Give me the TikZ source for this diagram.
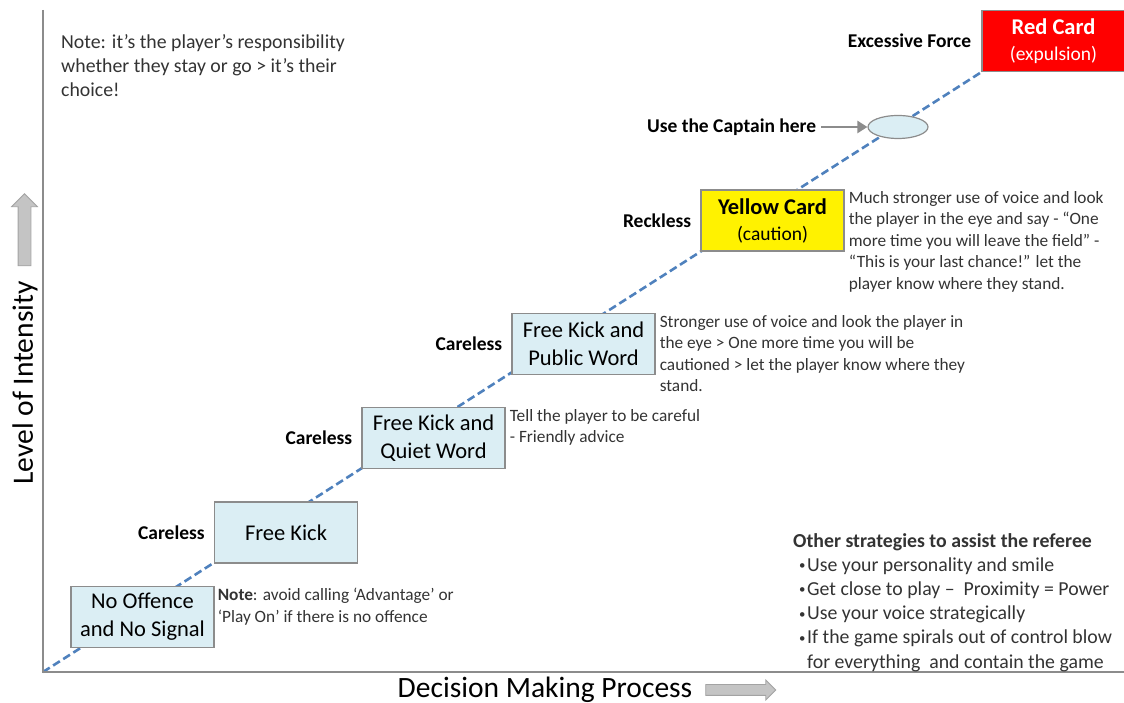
\documentclass[tikz,border=0pt]{standalone}
\usepackage{fontspec}
\setmainfont{Carlito}
\usetikzlibrary{shapes.geometric, shapes.arrows, arrows.meta, positioning, backgrounds}
\usepackage{xcolor}

\definecolor{boxblue}{HTML}{DBEEF4}
\definecolor{edgegrey}{HTML}{8C8C8C}
\definecolor{ladderblue}{HTML}{4F81BD}
\definecolor{textgrey}{HTML}{333333}
\definecolor{arrowgrey}{HTML}{C4C4C4}

\newcommand{\tipitem}{\hspace*{6pt}\makebox[8pt][l]{\raisebox{1.5pt}{\scalebox{0.65}{\textbullet}}}}

\begin{document}
\begin{tikzpicture}[
        x=1pt, y=1pt,
        >=latex,
        card/.style={rectangle, draw=edgegrey, line width=1.2pt, fill=boxblue, minimum width=143pt, minimum height=61pt, inner sep=2pt, align=center, font=\fontsize{22.5}{28}\selectfont},
        offence/.style={inner sep=0pt, font=\bfseries\fontsize{19.5}{23}\selectfont},
        desc/.style={inner sep=0pt, align=left, text=textgrey, font=\fontsize{17.3}{21.5}\selectfont},
        remark/.style={inner sep=0pt, align=left, text=textgrey, font=\fontsize{19.8}{24.2}\selectfont},
        axistitle/.style={inner sep=0pt, font=\fontsize{29.5}{34}\selectfont},
        bigarrow/.style={single arrow, draw=edgegrey!80, fill=arrowgrey, line width=0.8pt, inner xsep=0pt, single arrow head indent=0pt},
        ladder/.style={draw=ladderblue, line width=2.6pt, dash pattern=on 8pt off 4pt},
        axis/.style={draw=edgegrey, line width=2pt},
        line/.style={draw=edgegrey, line width=2.4pt, -{Triangle[length=10pt, width=12pt]}}
    ]
        \useasboundingbox (0,0) rectangle (1124,703);

        % Axes
        \coordinate (orig) at (43,31);
        \coordinate (y_top) at (43,693);
        \coordinate (x_end) at (1124,31);
        \draw [axis] (y_top) -- (orig) -- (x_end);
        \node [axistitle, rotate=90] (y_title) at (25,320) {Level of Intensity};
        \node [bigarrow, rotate=90, minimum height=72pt, inner ysep=6pt, single arrow head extend=6.5pt] (y_arrow) at (24.5,470) {};
        \node [axistitle] (x_title) at (545,13) {Decision Making Process};
        \node [bigarrow, minimum height=70pt, inner ysep=5pt, single arrow head extend=4.5pt] (x_arrow) at (738,13) {};

        % Cards
        \node [card] (card_none) at (142.5,86) {No Offence\\and No Signal};
        \node [card] (card_fk) at (286,170.5) {Free Kick};
        \node [card] (card_quiet) at (433.5,265) {Free Kick and\\Quiet Word};
        \node [card] (card_public) at (583.5,359) {Free Kick and\\Public Word};
        \node [card, fill=yellow] (card_yellow) at (772.5,482.5) {\textbf{Yellow Card}\\[-2pt]{\fontsize{19.5}{24}\selectfont(caution)}};
        \node [card, fill=red, text=white] (card_red) at (1053.5,662) {\textbf{Red Card}\\[-2pt]{\fontsize{19.5}{24}\selectfont(expulsion)}};
        \node [ellipse, draw=edgegrey, line width=1.2pt, fill=boxblue, minimum width=60pt, minimum height=23pt, inner sep=0pt] (captain) at (898,576) {};

        % Offence labels
        \node [offence, left=9pt of card_fk] (lab_fk) {Careless};
        \node [offence, left=9pt of card_quiet] (lab_quiet) {Careless};
        \node [offence, left=9pt of card_public] (lab_public) {Careless};
        \node [offence, left=9pt of card_yellow] (lab_yellow) {Reckless};
        \node [offence, left=10pt of card_red] (lab_red) {Excessive Force};
        \node [offence, left=51pt of captain] (lab_captain) {Use the Captain here};

        % Advice texts
        \node [desc, below right=2pt and 3pt of card_none.north east] (desc_none) {\textbf{Note}: avoid calling ‘Advantage’ or\\‘Play On’ if there is no offence};
        \node [desc, below right=2pt and 4pt of card_quiet.north east] (desc_quiet) {Tell the player to be careful\\- Friendly advice};
        \node [desc, below right=2pt and 4pt of card_public.north east] (desc_public) {Stronger use of voice and look the player in\\the eye > One more time you will be\\cautioned > let the player know where they\\stand.};
        \node [desc, below right=1.5pt and 4pt of card_yellow.north east] (desc_yellow) {Much stronger use of voice and look\\the player in the eye and say - “One\\more time you will leave the field” -\\“This is your last chance!” let the\\player know where they stand.};

        % Notes
        \node [remark, anchor=north west] (resp_note) at (61,669) {Note: it’s the player’s responsibility\\whether they stay or go > it’s their\\choice!};
        \node [remark, anchor=north west] (tips) at (793,170) {\textbf{Other strategies to assist the referee}\\
            \tipitem Use your personality and smile\\
            \tipitem Get close to play –\ \ Proximity = Power\\
            \tipitem Use your voice strategically\\
            \tipitem If the game spirals out of control blow\\
            \hspace*{14pt}for everything\ \ and contain the game};

        % Paths
        \path [line, shorten <=5pt] (lab_captain) -- (captain);
        \begin{scope}[on background layer]
            \path [ladder] (orig) -- (card_red.south west);
        \end{scope}

    \end{tikzpicture}
\end{document}
